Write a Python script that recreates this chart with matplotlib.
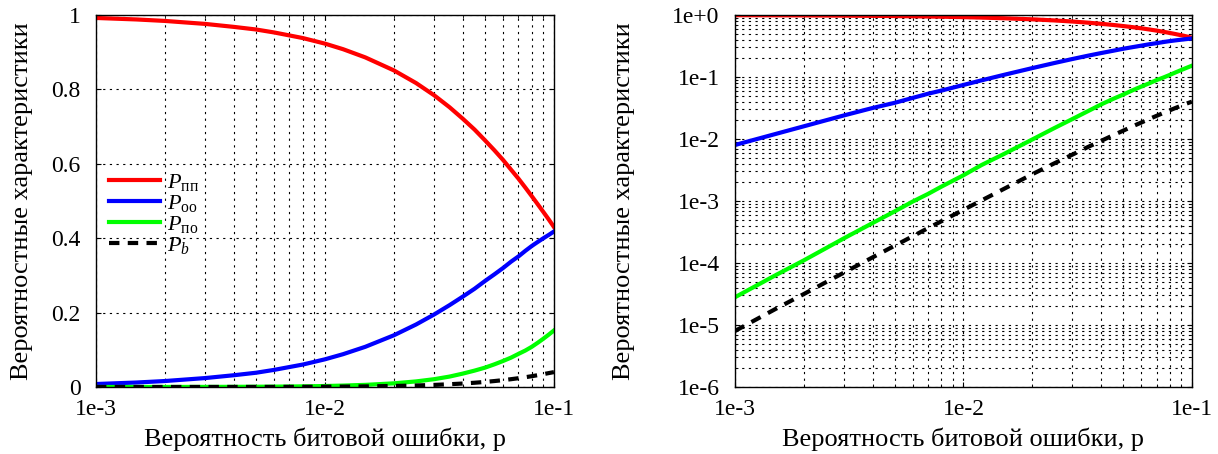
import numpy as np
import matplotlib
matplotlib.use('Agg')
import matplotlib.pyplot as plt
from matplotlib.ticker import FixedLocator, FixedFormatter, LogLocator, NullFormatter

plt.rcParams['font.family'] = ['Liberation Serif', 'DejaVu Serif']
plt.rcParams['mathtext.fontset'] = 'custom'
plt.rcParams['mathtext.rm'] = 'Liberation Serif'
plt.rcParams['mathtext.it'] = 'Liberation Serif:italic'

# bit error probability
p = [1e-3, 1.5e-3, 2e-3, 3e-3, 4e-3, 5e-3, 6e-3, 7e-3, 8e-3, 1e-2,
     1.2e-2, 1.5e-2, 2e-2, 2.5e-2, 3e-2, 3.5e-2, 4e-2, 4.5e-2, 5e-2,
     5.5e-2, 6e-2, 6.5e-2, 7e-2, 7.5e-2, 8e-2, 8.5e-2, 9e-2, 9.5e-2, 1e-1]

# values
p_pp = [0.992, 0.988, 0.984, 0.976, 0.968, 0.961, 0.953, 0.945, 0.938, 0.923,
        0.908, 0.886, 0.851, 0.817, 0.784, 0.752, 0.721, 0.692, 0.663,
        0.636, 0.610, 0.584, 0.560, 0.536, 0.513, 0.491, 0.470, 0.450, 0.430]
p_oo = [0.008, 0.012, 0.016, 0.024, 0.0316, 0.0383, 0.046, 0.0537, 0.0603, 0.0744,
        0.0882, 0.108, 0.139, 0.168, 0.195, 0.220, 0.243, 0.264, 0.285,
        0.303, 0.320, 0.337, 0.351, 0.366, 0.379, 0.390, 0.400, 0.409, 0.418]
p_no = [2.8e-5, 6.3e-5, 1.1e-4, 2.5e-4, 4.4e-4, 6.8e-4, 9.8e-4, 1.3e-3, 1.7e-3, 2.6e-3,
        3.8e-3, 5.7e-3, 9.8e-3, 1.5e-2, 2.1e-2, 2.8e-2, 3.6e-2, 4.4e-2, 5.2e-2,
        6.1e-2, 7.0e-2, 7.9e-2, 8.9e-2, 9.8e-2, 0.108, 0.119, 0.130, 0.141, 0.152]
p_b = [8e-6, 1.8e-5, 3.15e-5, 7.0e-5, 1.23e-4, 1.9e-4, 2.7e-4, 3.65e-4, 4.7e-4, 7.2e-4,
       1.02e-3, 1.56e-3, 2.7e-3, 4.05e-3, 5.6e-3, 7.4e-3, 9.3e-3, 1.14e-2, 1.36e-2,
       1.6e-2, 1.84e-2, 2.1e-2, 2.36e-2, 2.63e-2, 2.9e-2, 3.18e-2, 3.46e-2, 3.74e-2, 4.0e-2]

labels = [r'$P_{\mathrm{пп}}$', r'$P_{\mathrm{оо}}$', r'$P_{\mathrm{по}}$', r'$P_b$']
x_ticks = [1e-3, 1e-2, 1e-1]
x_tick_labels = ['1e-3', '1e-2', '1e-1']
lin_y_ticks = [0, 0.2, 0.4, 0.6, 0.8, 1]
lin_y_labels = ['0', '0.2', '0.4', '0.6', '0.8', '1']
log_y_ticks = [1e-6, 1e-5, 1e-4, 1e-3, 1e-2, 1e-1, 1]
log_y_labels = ['1e-6', '1e-5', '1e-4', '1e-3', '1e-2', '1e-1', '1e+0']

grid_style = dict(color='k', linestyle=(0, (2, 4)), linewidth=0.8)

fig = plt.figure(figsize=(12.18, 4.54), dpi=100)
ax1 = fig.add_axes([0.0788, 0.1476, 0.376, 0.8194])
ax2 = fig.add_axes([0.6034, 0.1476, 0.3752, 0.8194])


def draw_curves(ax):
    ax.plot(p, p_pp, color='#ff0000', lw=3, label=labels[0])
    ax.plot(p, p_oo, color='#0000ff', lw=3, label=labels[1])
    ax.plot(p, p_no, color='#00ff00', lw=3, label=labels[2])
    ax.plot(p, p_b, color='k', lw=3, linestyle=(0, (2.5, 2)), label=labels[3])


def style_axes(ax):
    ax.set_xscale('log')
    ax.set_xlim(1e-3, 1e-1)
    ax.xaxis.set_major_locator(FixedLocator(x_ticks))
    ax.xaxis.set_major_formatter(FixedFormatter(x_tick_labels))
    ax.xaxis.set_minor_locator(LogLocator(base=10, subs=np.arange(2, 10)))
    ax.xaxis.set_minor_formatter(NullFormatter())
    ax.tick_params(which='both', direction='in', top=True, right=True, labelsize=17)
    ax.tick_params(axis='x', pad=9)
    ax.tick_params(axis='y', pad=11)
    ax.grid(True, which='both', **grid_style)
    ax.set_xlabel('Вероятность битовой ошибки, p', fontsize=19, labelpad=5)
    ax.set_ylabel('Вероятностные характеристики', fontsize=19)
    for s in ax.spines.values():
        s.set_linewidth(1.0)


draw_curves(ax1)
style_axes(ax1)
ax1.set_ylim(0, 1)
ax1.yaxis.set_major_locator(FixedLocator(lin_y_ticks))
ax1.yaxis.set_major_formatter(FixedFormatter(lin_y_labels))
ax1.grid(False, axis='y', which='minor')
ax1.yaxis.set_label_coords(-0.138, 0.5)
ax1.legend(loc='upper left', bbox_to_anchor=(0.0, 0.615), frameon=False,
           fontsize=16, handlelength=2.3, labelspacing=0.0, handletextpad=0.3,
           borderaxespad=0.2)

draw_curves(ax2)
style_axes(ax2)
ax2.set_yscale('log')
ax2.set_ylim(1e-6, 1)
ax2.yaxis.set_major_locator(FixedLocator(log_y_ticks))
ax2.yaxis.set_major_formatter(FixedFormatter(log_y_labels))
ax2.yaxis.set_minor_locator(LogLocator(base=10, subs=np.arange(2, 10)))
ax2.yaxis.set_minor_formatter(NullFormatter())
ax2.grid(True, which='both', **grid_style)
ax2.yaxis.set_label_coords(-0.219, 0.5)

fig.savefig('out.png', dpi=100)
